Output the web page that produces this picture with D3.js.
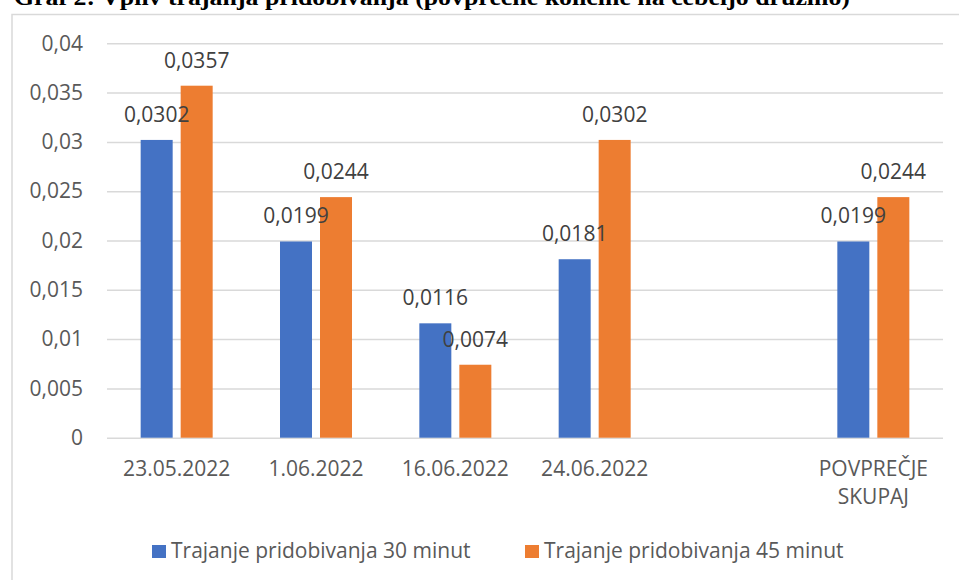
<!DOCTYPE html>
<html>
<head>
<meta charset="utf-8">
<script src="https://cdn.jsdelivr.net/npm/d3@7"></script>
<style>
  body { margin: 0; background: #fff; }
  svg { display: block; font-family: "Open Sans", sans-serif; }
</style>
</head>
<body>
<div class="chart"></div>
<script>
const title = "Graf 2: Vpliv trajanja pridobivanja (povprečne količine na čebeljo družino)";
const categories = ["23.05.2022", "1.06.2022", "16.06.2022", "24.06.2022", "", "POVPREČJE SKUPAJ"];
const seriesNames = ["Trajanje pridobivanja 30 minut", "Trajanje pridobivanja 45 minut"];
const values30 = [0.0302, 0.0199, 0.0116, 0.0181, null, 0.0199];
const values45 = [0.0357, 0.0244, 0.0074, 0.0302, null, 0.0244];
const yTicks = [0, 0.005, 0.01, 0.015, 0.02, 0.025, 0.03, 0.035, 0.04];
const colors = ["#4472C4", "#ED7D31"];

const width = 959;
const height = 580;
const svg = d3.select('.chart')
    .append('svg')
    .attr('width', width)
    .attr('height', height)

const slFormat = d3.formatLocale({decimal: ",", thousands: ".", grouping: [3], currency: ["", "€"]});
const fmtTick = slFormat.format("~g");
const fmtVal = slFormat.format(".4f");

// title, cut by the top edge like in the scan
svg.append('text')
    .attr('x', 14)
    .attr('y', 5)
    .attr('font-family', '"Liberation Serif", serif')
    .attr('font-weight', 'bold')
    .attr('font-size', 24)
    .attr('textLength', 836)
    .attr('lengthAdjust', 'spacingAndGlyphs')
    .attr('fill', '#000')
    .text(title);

// chart frame
svg.append('path')
    .attr('d', `M12,${height} V14.5 H${width}`)
    .attr('fill', 'none')
    .attr('stroke', '#d9d9d9')
    .attr('stroke-width', 1.5);

const x0 = d3.scaleBand()
    .domain(d3.range(categories.length))
    .range([107, 943]);

const x1 = d3.scaleBand()
    .domain([0, 1])
    .range([0, 72])
    .paddingInner(0.2);

const groupOffset = (x0.bandwidth() - 72) / 2;

const y = d3.scaleLinear()
    .domain([0, 0.04])
    .range([437.7, 43.3]);

// y axis + gridlines
const yAxis = svg.append('g')
    .attr('transform', 'translate(107,0)')
    .call(d3.axisLeft(y)
        .tickValues(yTicks)
        .tickFormat(fmtTick)
        .tickSize(-836)
        .tickPadding(24));
yAxis.select('.domain').remove();
yAxis.selectAll('line').attr('stroke', '#d9d9d9').attr('stroke-width', 1.5);
yAxis.selectAll('text')
    .attr('font-size', 21)
    .attr('font-family', '"Open Sans", sans-serif')
    .attr('fill', '#595959');

// category axis
const xAxis = svg.append('g')
    .attr('transform', 'translate(0,437.7)')
    .call(d3.axisBottom(x0).tickSize(0).tickFormat(''));
xAxis.select('.domain').remove();
xAxis.selectAll('.tick').each(function(d) {
    const words = categories[d].split(' ');
    const t = d3.select(this).append('text')
        .attr('fill', '#595959')
        .attr('font-size', 21)
        .attr('font-family', '"Open Sans", sans-serif')
        .attr('text-anchor', 'middle');
    words.forEach((w, i) => {
        t.append('tspan')
            .attr('x', 0)
            .attr('y', 38 + i * 28)
            .text(w);
    });
});

// bars first, then all the data labels on top
const seriesValues = [values30, values45];
const points = [];
seriesValues.forEach((vals, s) => {
    vals.forEach((v, i) => { if (v !== null) points.push({s, i, v}); });
});

svg.append('g').selectAll('rect')
    .data(points)
    .enter()
    .append('rect')
    .attr('x', d => x0(d.i) + groupOffset + x1(d.s))
    .attr('y', d => y(d.v))
    .attr('width', x1.bandwidth())
    .attr('height', d => y(0) - y(d.v))
    .attr('fill', d => colors[d.s]);

svg.append('g').selectAll('text')
    .data(points)
    .enter()
    .append('text')
    .attr('x', d => x0(d.i) + groupOffset + x1(d.s) + x1.bandwidth() / 2)
    .attr('y', d => y(d.v) - 18)
    .attr('text-anchor', 'middle')
    .attr('font-size', 21)
    .attr('fill', '#404040')
    .text(d => fmtVal(d.v));

// legend
const legendX = [152, 525];
const legend = svg.append('g').selectAll('g')
    .data(seriesNames)
    .enter()
    .append('g')
    .attr('transform', (d, i) => `translate(${legendX[i]},545)`);
legend.append('rect')
    .attr('width', 14)
    .attr('height', 13)
    .attr('fill', (d, i) => colors[i]);
legend.append('text')
    .attr('x', 19)
    .attr('y', 13)
    .attr('font-size', 21)
    .attr('fill', '#595959')
    .text(d => d);
</script>
</body>
</html>
